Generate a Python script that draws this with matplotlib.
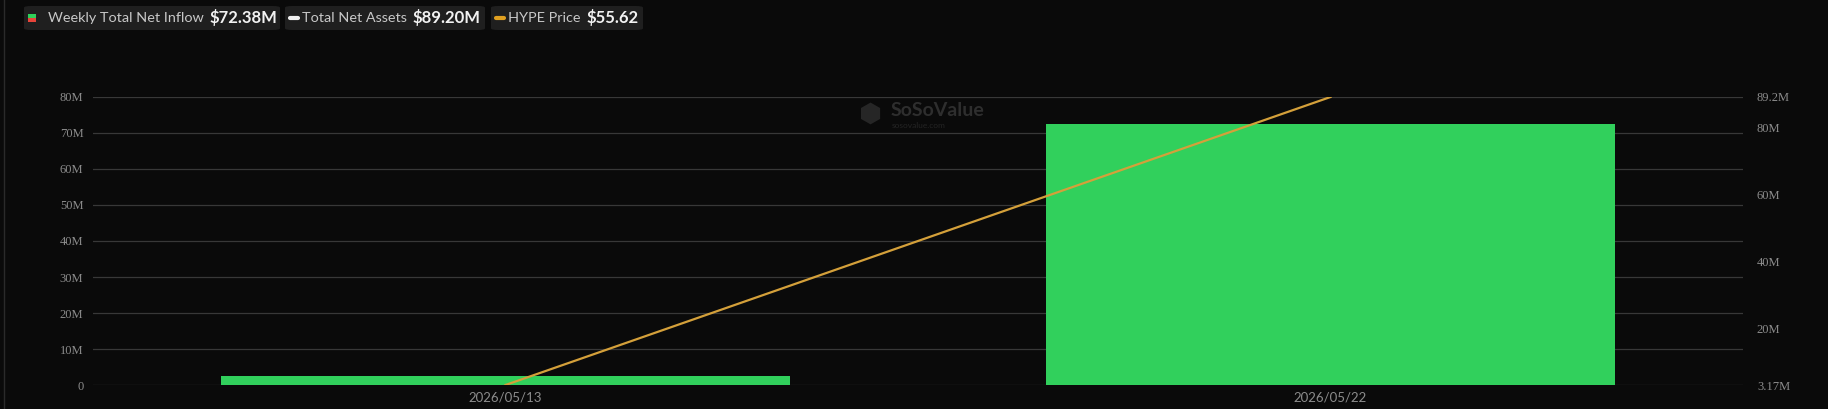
import matplotlib.pyplot as plt
from matplotlib.patches import FancyBboxPatch, Rectangle
from matplotlib.lines import Line2D
from matplotlib.ticker import FuncFormatter

BG = "#0a0a0a"
GRID = "#383838"
TICK = "#8c8c8c"
GREEN = "#31d05c"
GOLD = "#d4a03a"

plt.rcParams.update({
    "font.family": ["Lato", "DejaVu Sans"],
    "axes.linewidth": 0,
})

# data (in millions)
dates = ["2026/05/13", "2026/05/22"]
net_inflow = [2.4, 72.38]
total_assets = [3.17, 89.20]
left_ticks = [0, 10, 20, 30, 40, 50, 60, 70, 80]
right_ticks = [3.17, 20, 40, 60, 80, 89.2]

legend_items = [
    ("Weekly Total Net Inflow", "$72.38M"),
    ("Total Net Assets", "$89.20M"),
    ("HYPE Price", "$55.62"),
]

W, H = 1828, 409
fig = plt.figure(figsize=(W / 100, H / 100), dpi=100, facecolor=BG)
ax = fig.add_axes([93 / W, 24 / H, (1743 - 93) / W, (385 - 97) / H])
ax.set_facecolor(BG)

x = range(len(dates))
ax.bar(x, net_inflow, width=0.69, color=GREEN, zorder=2)
ax.set_xlim(-0.5, 1.5)
ax.set_ylim(0, 80)
ax.set_yticks(left_ticks)
ax.yaxis.set_major_formatter(FuncFormatter(lambda v, p: "0" if v == 0 else f"{v:.0f}M"))
ax.grid(axis="y", color=GRID, lw=0.9, zorder=0)
ax.set_xticks(list(x))
ax.set_xticklabels(dates)
ax.tick_params(axis="x", length=0, pad=5, labelsize=9.5, labelcolor=TICK)
ax.tick_params(axis="y", length=0, pad=7, labelcolor=TICK)
for lab in ax.get_yticklabels():
    lab.set_fontfamily("Liberation Serif")
    lab.set_fontsize(9)

ax2 = ax.twinx()
ax2.plot(x, total_assets, color=GOLD, lw=1.6, zorder=3)
ax2.set_ylim(total_assets[0], total_assets[1])
ax2.set_yticks(right_ticks)
ax2.yaxis.set_major_formatter(FuncFormatter(lambda v, p: f"{v:.2f}M" if v < 10 else (f"{v:.1f}M" if v % 1 else f"{v:.0f}M")))
ax2.tick_params(axis="y", length=0, pad=10, labelcolor=TICK)
for lab in ax2.get_yticklabels():
    lab.set_fontfamily("Liberation Serif")
    lab.set_fontsize(9)
for a in (ax, ax2):
    for s in a.spines.values():
        s.set_visible(False)

# watermark
fig.text(870 / W, 1 - 115 / H, "\u2B22", color="#262626", fontsize=19, ha="center", va="center",
         family="DejaVu Sans")
fig.text(891 / W, 1 - 111 / H, "SoSoValue", color="#2e2e2e", fontsize=14, fontweight="bold",
         ha="left", va="center")
fig.text(892 / W, 1 - 125 / H, "sosovalue.com", color="#242424", fontsize=6, ha="left", va="center")

# left border line
fig.add_artist(Line2D([3.5 / W, 3.5 / W], [0, 1], color="#2a2a2a", lw=1))

# legend boxes
boxes = [(24, 280), (285, 485), (491, 643)]
for (x0, x1), (label, value), kind in zip(boxes, legend_items, ["sq", "white", "gold"]):
    fig.add_artist(FancyBboxPatch((x0 / W, 1 - 30 / H), (x1 - x0) / W, 24 / H,
                                  boxstyle="round,pad=0,rounding_size=0.004",
                                  transform=fig.transFigure, fc="#1f1f1f", ec="none"))
    if kind == "sq":
        fig.add_artist(Rectangle((28 / W, 1 - 18 / H), 8 / W, 4 / H, transform=fig.transFigure,
                                 fc="#2fd05a", ec="none"))
        fig.add_artist(Rectangle((28 / W, 1 - 22 / H), 8 / W, 4 / H, transform=fig.transFigure,
                                 fc="#e8443a", ec="none"))
        tx = 48
    else:
        c = "#f0f0f0" if kind == "white" else "#e0a020"
        fig.add_artist(Line2D([(x0 + 5) / W, (x0 + 13) / W], [1 - 18 / H, 1 - 18 / H],
                              color=c, lw=3, solid_capstyle="round"))
        tx = x0 + 17
    t = fig.text(tx / W, 1 - 18 / H, label, color="#c8c8c8", fontsize=10.4, ha="left", va="center")
    fig.canvas.draw()
    bb = t.get_window_extent()
    fig.text((bb.x1 + 6) / W, 1 - 18 / H, value, color="#f2f2f2", fontsize=12,
             fontweight="bold", ha="left", va="center")

fig.savefig("out.png", dpi=100, facecolor=BG)
